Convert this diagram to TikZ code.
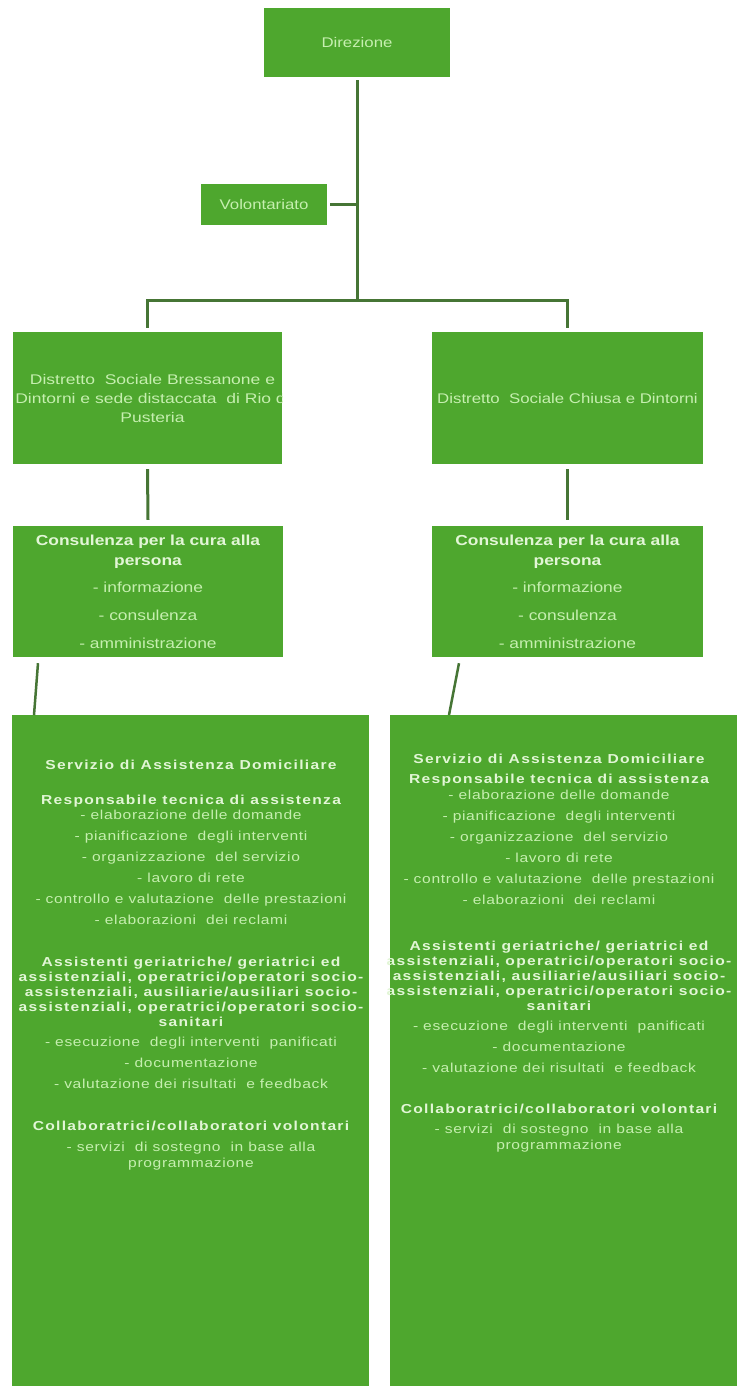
\documentclass[tikz,border=0pt]{standalone}
\usepackage{fontspec}
\setmainfont{Liberation Sans}
\newfontfamily\upf[FakeStretch=1.2]{Liberation Sans}
\newfontfamily\upw[FakeStretch=1.25]{Liberation Sans}
\newfontfamily\lowf[FakeStretch=1.2,LetterSpace=5]{Liberation Sans}
\newfontfamily\lowb[FakeStretch=1.2,LetterSpace=10]{Liberation Sans}
\definecolor{gfill}{HTML}{4EA72E}
\definecolor{gtext}{HTML}{C6EFB0}
\definecolor{ghead}{HTML}{E2F6D6}
\definecolor{gline}{HTML}{467535}
\begin{document}
\begin{tikzpicture}[x=1pt,y=-1pt,
  gbox/.style={fill=gfill, draw=none, inner sep=0pt, align=center, text=gtext},
  conn/.style={draw=gline, line width=3pt},
  slant/.style={draw=gline, line width=2.5pt},
  uptext/.style={font=\upf\fontsize{14}{19}\selectfont},
  lowtext/.style={align=center, inner sep=0pt, text=gtext, font=\lowf\fontsize{13}{21}\selectfont}]
\useasboundingbox (0,0) rectangle (736,1386);
\fill[white] (0,0) rectangle (736,1386);

% top
\node[gbox, minimum width=186pt, minimum height=69pt, font=\upf\fontsize{14}{16}\selectfont] (dir) at (357,42.5) {Direzione};
\node[gbox, minimum width=126pt, minimum height=41pt, font=\upf\fontsize{14}{16}\selectfont] (vol) at (264,204.5) {Volontariato};
\coordinate (j) at (357,300);

% districts
\node[gbox, uptext, minimum width=269pt, minimum height=132pt] (dL) at (147.5,398) {};
\begin{scope}
\clip (dL.south west) rectangle (dL.north east);
\node[gbox, fill=none, font=\upw\fontsize{14}{19}\selectfont] (dLt) at ([xshift=5pt]dL.center) {Distretto\ \ Sociale Bressanone e\\Dintorni e sede distaccata\ \ di Rio di\\Pusteria};
\end{scope}
\node[gbox, uptext, minimum width=271pt, minimum height=132pt] (dR) at (567.5,398) {Distretto\ \ Sociale Chiusa e Dintorni};

% consulenza
\node[gbox, minimum width=270pt, minimum height=131pt, font=\upf\fontsize{14.5}{28}\selectfont] (cL) at (148,591.5)
 {{\bfseries\color{ghead}Consulenza per la cura alla}\\[-8pt]{\bfseries\color{ghead}persona}\\[-1pt]- informazione\\- consulenza\\- amministrazione};
\node[gbox, minimum width=271pt, minimum height=131pt, font=\upf\fontsize{14.5}{28}\selectfont] (cR) at (567.5,591.5)
 {{\bfseries\color{ghead}Consulenza per la cura alla}\\[-8pt]{\bfseries\color{ghead}persona}\\[-1pt]- informazione\\- consulenza\\- amministrazione};

% bottom boxes
\node[gbox, minimum width=357pt, minimum height=680pt, anchor=north west] (sadL) at (12,715) {};
\node[gbox, minimum width=350pt, minimum height=680pt, anchor=north west] (sadR) at (390,715) {};

\node[lowtext, anchor=north] (sadLt) at (191,760) {%
{\lowb\bfseries\color{ghead}Servizio di Assistenza Domiciliare}\\[14pt]
{\lowb\bfseries\color{ghead}Responsabile tecnica di assistenza}\\[-6pt]
- elaborazione delle domande\\
- pianificazione\ \ degli interventi\\
- organizzazione\ \ del servizio\\
- lavoro di rete\\
- controllo e valutazione\ \ delle prestazioni\\
- elaborazioni\ \ dei reclami\\[21pt]
{\lowb\bfseries\color{ghead}Assistenti geriatriche/ geriatrici ed}\\[-6pt]
{\lowb\bfseries\color{ghead}assistenziali, operatrici/operatori socio-}\\[-6pt]
{\lowb\bfseries\color{ghead}assistenziali, ausiliarie/ausiliari socio-}\\[-6pt]
{\lowb\bfseries\color{ghead}assistenziali, operatrici/operatori socio-}\\[-6pt]
{\lowb\bfseries\color{ghead}sanitari}\\[-1pt]
- esecuzione\ \ degli interventi\ \ panificati\\
- documentazione\\
- valutazione dei risultati\ \ e feedback\\[21pt]
{\lowb\bfseries\color{ghead}Collaboratrici/collaboratori volontari}\\
- servizi\ \ di sostegno\ \ in base alla\\[-5pt]
programmazione};

\node[lowtext, anchor=north] (sadRt) at (559,754) {%
{\lowb\bfseries\color{ghead}Servizio di Assistenza Domiciliare}\\[-1pt]
{\lowb\bfseries\color{ghead}Responsabile tecnica di assistenza}\\[-5pt]
- elaborazione delle domande\\
- pianificazione\ \ degli interventi\\
- organizzazione\ \ del servizio\\
- lavoro di rete\\
- controllo e valutazione\ \ delle prestazioni\\
- elaborazioni\ \ dei reclami\\[25pt]
{\lowb\bfseries\color{ghead}Assistenti geriatriche/ geriatrici ed}\\[-6pt]
{\lowb\bfseries\color{ghead}assistenziali, operatrici/operatori socio-}\\[-6pt]
{\lowb\bfseries\color{ghead}assistenziali, ausiliarie/ausiliari socio-}\\[-6pt]
{\lowb\bfseries\color{ghead}assistenziali, operatrici/operatori socio-}\\[-6pt]
{\lowb\bfseries\color{ghead}sanitari}\\[-1pt]
- esecuzione\ \ degli interventi\ \ panificati\\
- documentazione\\
- valutazione dei risultati\ \ e feedback\\[20pt]
{\lowb\bfseries\color{ghead}Collaboratrici/collaboratori volontari}\\[-1pt]
- servizi\ \ di sostegno\ \ in base alla\\[-5pt]
programmazione};

% connectors
\draw[conn] ([yshift=-3pt]dir.south) -- (j);
\draw[conn] ([xshift=3pt]vol.east) -- (vol.east -| j);
\draw[conn, line join=miter] ([yshift=4pt]dL.north) |- (j) -| ([yshift=4pt]dR.north);
\draw[conn] ([yshift=-5pt]dL.south) -- ([yshift=6pt]cL.north);
\draw[conn] ([yshift=-5pt]dR.south) -- ([yshift=6pt]cR.north);
\draw[slant] ([shift={(-110,6)}]cL.south) -- ([xshift=22pt]sadL.north west);
\draw[slant] ([shift={(-108.5,6)}]cR.south) -- ([xshift=59pt]sadR.north west);
\end{tikzpicture}
\end{document}
